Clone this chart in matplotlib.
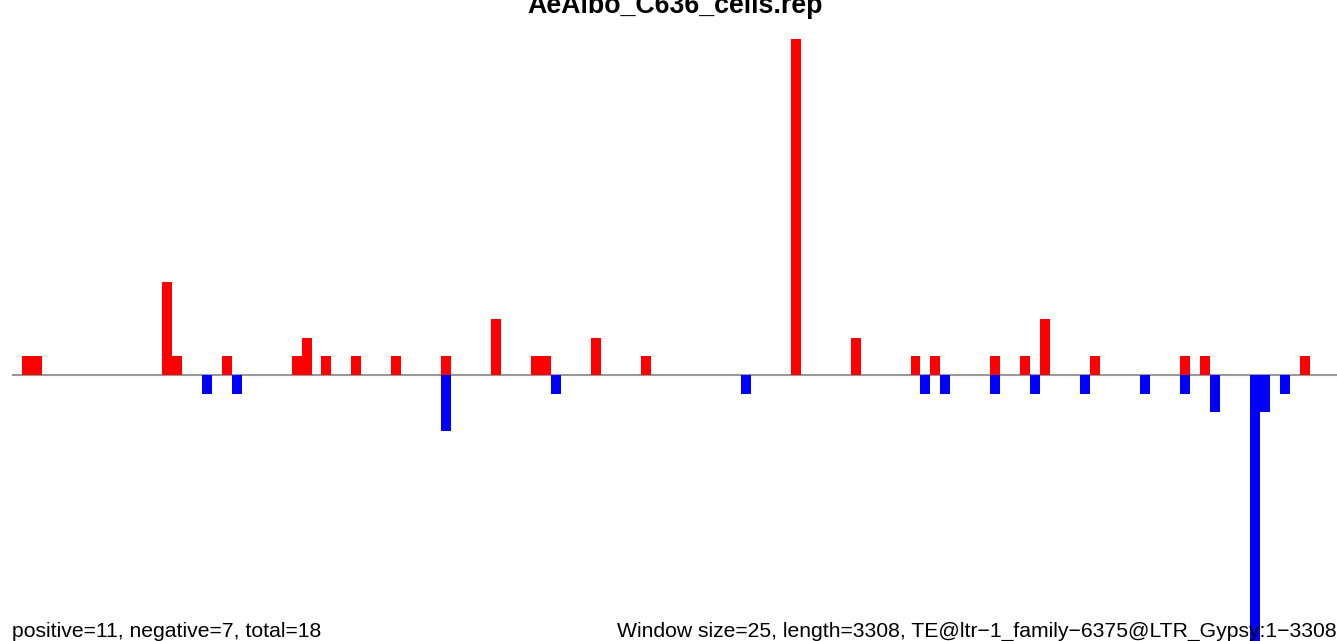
import numpy as np
import matplotlib.pyplot as plt

plt.rcParams["font.family"] = ["Liberation Sans", "DejaVu Sans"]

window = 25
length = 3308

# window index -> value (reads per window)
pos_idx = [1, 2, 15, 16, 21, 28, 29, 31, 34, 38, 43, 48, 52, 53, 58, 63, 78, 84,
           90, 92, 98, 101, 103, 108, 117, 119, 129]
pos_val = [1, 1, 5, 1, 1, 1, 2, 1, 1, 1, 1, 3, 1, 1, 2, 1, 18, 2,
           1, 1, 1, 1, 3, 1, 1, 1, 1]
neg_idx = [19, 22, 43, 54, 73, 91, 93, 98, 102, 107, 113, 117, 120, 124, 125, 127]
neg_val = [-1, -1, -3, -1, -1, -1, -1, -1, -1, -1, -1, -1, -2, -16, -2, -1]

title = "AeAlbo_C636_cells.rep"
left_note = "positive=11, negative=7, total=18"
right_note = "Window size=25, length=3308, TE@ltr\u22121_family\u22126375@LTR_Gypsy:1\u22123308"

fig = plt.figure(figsize=(13.37, 6.41), dpi=100)
ax = fig.add_axes([12 / 1337, 0, 1 - 12 / 1337, 1])

px_per_unit = 18.67
ax.set_ylim(-266 / px_per_unit, 375 / px_per_unit)
ax.set_xlim(0, 3318)

ax.axhline(0, color="#999999", lw=1.5, zorder=1)
ax.bar(np.array(pos_idx) * window, pos_val, width=window, align="edge",
       color="#ff0000", linewidth=0, zorder=2)
ax.bar(np.array(neg_idx) * window, neg_val, width=window, align="edge",
       color="#0000ff", linewidth=0, zorder=2)
ax.axis("off")

fig.text(675 / 1337, 1 - 13 / 641, title, ha="center", va="baseline",
         fontsize=19.3, fontweight="bold")
fig.text(12 / 1337, 4 / 641, left_note, ha="left", va="baseline", fontsize=15.2)
fig.text(617 / 1337, 4 / 641, right_note, ha="left", va="baseline", fontsize=15.2)

fig.savefig("out.png", dpi=100)
